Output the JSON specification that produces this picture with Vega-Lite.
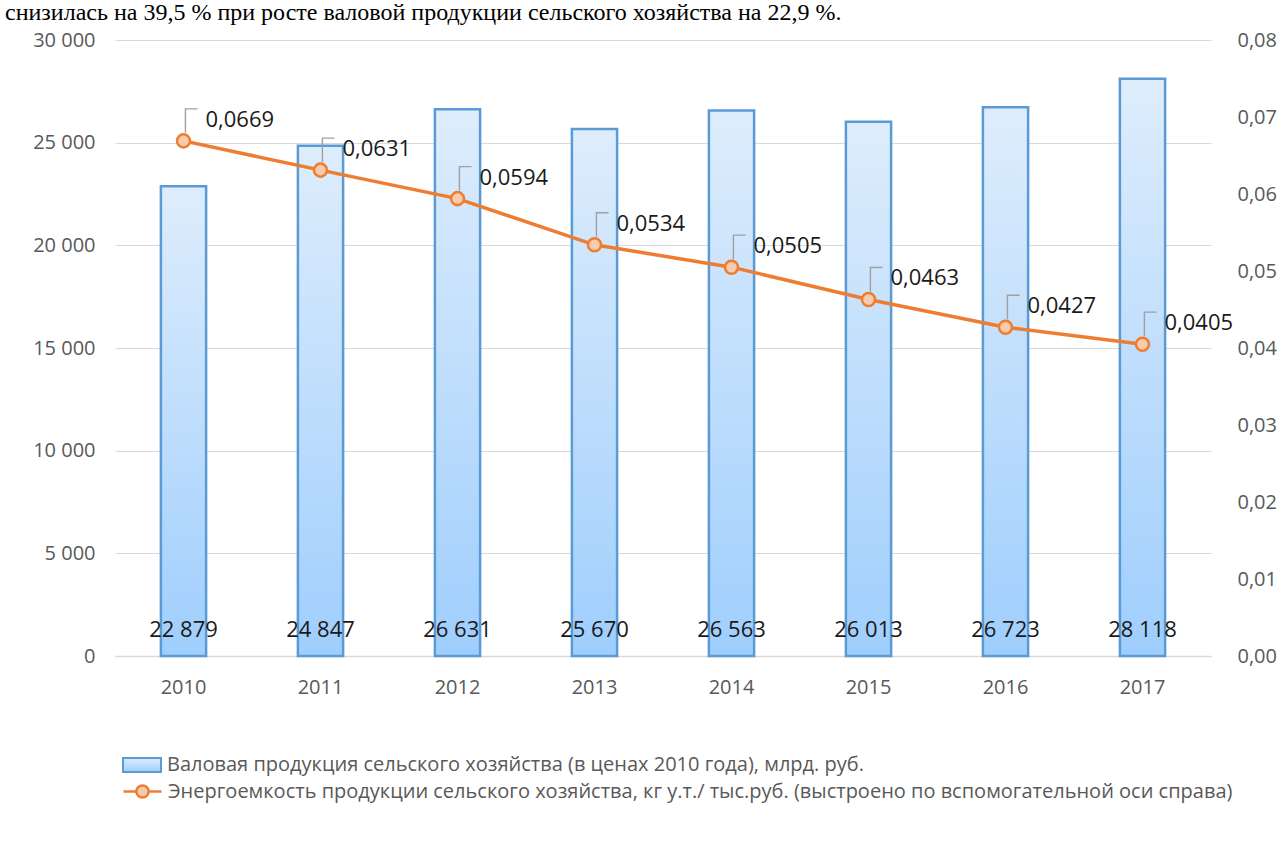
{
  "$schema": "https://vega.github.io/schema/vega-lite/v6.json",
  "width": 1096,
  "height": 616,
  "autosize": {"type": "none"},
  "padding": {"left": 115, "top": 40, "right": 77, "bottom": 189},
  "background": "white",
  "title": {
    "text": "снизилась на 39,5 % при росте валовой продукции сельского хозяйства на 22,9 %.",
    "font": "Liberation Serif",
    "fontSize": 24,
    "fontWeight": "normal",
    "color": "#000000",
    "anchor": "start",
    "frame": "group",
    "baseline": "alphabetic",
    "offset": -14,
    "dx": -110
  },
  "data": {
    "values": [
      {"year": "2010", "gross": 22879, "energy": 0.0669},
      {"year": "2011", "gross": 24847, "energy": 0.0631},
      {"year": "2012", "gross": 26631, "energy": 0.0594},
      {"year": "2013", "gross": 25670, "energy": 0.0534},
      {"year": "2014", "gross": 26563, "energy": 0.0505},
      {"year": "2015", "gross": 26013, "energy": 0.0463},
      {"year": "2016", "gross": 26723, "energy": 0.0427},
      {"year": "2017", "gross": 28118, "energy": 0.0405}
    ]
  },
  "encoding": {
    "x": {
      "field": "year",
      "type": "ordinal",
      "scale": {"paddingInner": 0.67, "paddingOuter": 0.335},
      "axis": {
        "title": null,
        "labelAngle": 0,
        "domainColor": "#d9d9d9",
        "domainWidth": 1.5,
        "ticks": false,
        "labelPadding": 21,
        "labelFontSize": 20,
        "labelColor": "#595959",
        "labelFont": "Open Sans"
      }
    }
  },
  "layer": [
    {
      "encoding": {
        "y": {
          "field": "gross",
          "type": "quantitative",
          "scale": {"domain": [0, 30000]},
          "axis": {
            "orient": "left",
            "title": null,
            "values": [0, 5000, 10000, 15000, 20000, 25000, 30000],
            "format": ",d",
            "grid": true,
            "gridColor": "#d9d9d9",
            "gridWidth": 1.2,
            "domain": false,
            "ticks": false,
            "labelPadding": 20,
            "labelFontSize": 20,
            "labelColor": "#595959",
            "labelFont": "Open Sans"
          }
        }
      },
      "layer": [
        {
          "mark": {
            "type": "bar",
            "fill": {
              "gradient": "linear",
              "x1": 0, "y1": 0, "x2": 0, "y2": 1,
              "stops": [
                {"offset": 0, "color": "#deedfc"},
                {"offset": 1, "color": "#9fcefd"}
              ]
            },
            "strokeWidth": 2.5
          },
          "encoding": {
            "stroke": {
              "datum": "Валовая продукция сельского хозяйства (в ценах 2010 года), млрд. руб.",
              "type": "nominal",
              "scale": {"range": ["#5b9bd5"]},
              "legend": {
                "orient": "none",
                "legendX": 7,
                "legendY": 705,
                "title": null,
                "padding": 0,
                "symbolType": "M-1,-0.37H1V0.37H-1Z",
                "symbolSize": 1444,
                "symbolFillColor": "#cfe4fb",
                "symbolStrokeWidth": 2,
                "labelFontSize": 20,
                "labelColor": "#595959",
                "labelFont": "Open Sans",
                "labelLimit": 0,
                "labelOffset": 5
              }
            }
          }
        },
        {
          "mark": {
            "type": "text",
            "dy": -26,
            "baseline": "middle",
            "fontSize": 22,
            "font": "Open Sans",
            "color": "#1a1a1a"
          },
          "encoding": {
            "y": {"datum": 0, "type": "quantitative"},
            "text": {"field": "gross", "type": "quantitative", "format": ",d"}
          }
        }
      ]
    },
    {
      "encoding": {
        "y": {
          "field": "energy",
          "type": "quantitative",
          "scale": {"domain": [0, 0.08]},
          "axis": {
            "orient": "right",
            "title": null,
            "values": [0, 0.01, 0.02, 0.03, 0.04, 0.05, 0.06, 0.07, 0.08],
            "format": ".2f",
            "grid": false,
            "domain": false,
            "ticks": false,
            "labelPadding": 26,
            "labelFontSize": 20,
            "labelColor": "#595959",
            "labelFont": "Open Sans"
          }
        }
      },
      "layer": [
        {
          "mark": {"type": "line", "strokeWidth": 3.5},
          "encoding": {
            "stroke": {
              "datum": "Энергоемкость продукции сельского хозяйства, кг у.т./ тыс.руб. (выстроено по вспомогательной оси справа)",
              "type": "nominal",
              "scale": {"range": ["#ed7d31"]},
              "legend": {
                "orient": "none",
                "legendX": 7,
                "legendY": 731,
                "title": null,
                "padding": 0,
                "symbolType": "M-1,0H-0.32M0.32,0H1M-0.32,0A0.32,0.32 0 1,1 0.32,0A0.32,0.32 0 1,1 -0.32,0Z",
                "symbolSize": 1444,
                "symbolFillColor": "#f8cbad",
                "symbolStrokeWidth": 2.5,
                "labelFontSize": 20,
                "labelColor": "#595959",
                "labelFont": "Open Sans",
                "labelLimit": 0,
                "labelOffset": 5
              }
            }
          }
        },
        {
          "mark": {
            "type": "point",
            "shape": "M0.06,-0.25V-1H0.44",
            "size": 4096,
            "filled": false,
            "fill": null,
            "stroke": "#a0a0a0",
            "strokeWidth": 1.4,
            "opacity": 1
          }
        },
        {
          "mark": {
            "type": "point",
            "shape": "circle",
            "filled": true,
            "fill": "#f8cbad",
            "stroke": "#ed7d31",
            "strokeWidth": 2.5,
            "size": 170,
            "opacity": 1
          }
        },
        {
          "mark": {
            "type": "text",
            "align": "left",
            "baseline": "middle",
            "dx": 22,
            "dy": -21,
            "fontSize": 22,
            "font": "Open Sans",
            "color": "#1a1a1a"
          },
          "encoding": {
            "text": {"field": "energy", "type": "quantitative", "format": ".4f"}
          }
        }
      ]
    }
  ],
  "resolve": {"scale": {"y": "independent", "stroke": "independent"}},
  "config": {
    "locale": {
      "number": {"decimal": ",", "thousands": " ", "grouping": [3], "currency": ["", ""]}
    },
    "view": {"stroke": null}
  }
}
